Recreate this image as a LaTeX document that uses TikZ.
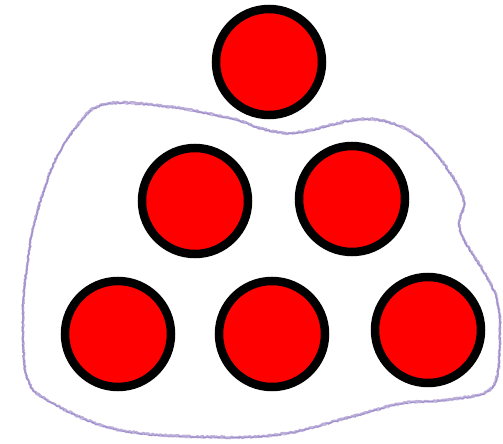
\documentclass[tikz,border=0pt]{standalone}
\usetikzlibrary{decorations.pathmorphing}
\definecolor{pencil}{RGB}{120,95,180}
\begin{document}
\begin{tikzpicture}[x=1pt,y=-1pt,
  ball/.style={circle,draw=black,fill=red,line width=8.5pt,minimum size=106pt,inner sep=0pt},
  outline/.style={draw=pencil,line width=2.2pt,opacity=0.5,line join=round,
    decoration={random steps,segment length=1.2pt,amplitude=0.8pt},decorate}]
\useasboundingbox (0,0) rectangle (503,444);
\draw[outline] plot[smooth cycle,tension=0.6] coordinates{
 (104,104) (165,106) (230,118) (268,130) (300,132) (360,119) (400,126) (433,150)
 (463,197) (460,230) (487,277) (497,300) (500,333) (493,386) (453,399) (403,403)
 (353,416) (287,433) (220,437) (120,430) (53,403) (27,377) (23,310) (28,260)
 (35,220) (53,165) (76,127)};
\draw[outline,opacity=0.4,line width=1.2pt] plot[smooth cycle,tension=0.6] coordinates{
 (104,105) (165,107) (230,119) (268,131) (300,133) (360,120) (400,127) (433,151)
 (463,198) (460,231) (487,278) (497,301) (500,334) (493,387) (453,400) (403,404)
 (353,417) (287,434) (220,438) (120,431) (53,404) (27,378) (23,311) (28,261)
 (35,221) (53,166) (76,128)};
\node[ball] (top) at (269,62) {};
\node[ball] (ml) at (195,201) {};
\node[ball] (mr) at (352,199) {};
\node[ball] (bl) at (118,334) {};
\node[ball] (bm) at (272,334) {};
\node[ball] (br) at (428,330) {};
\end{tikzpicture}
\end{document}
